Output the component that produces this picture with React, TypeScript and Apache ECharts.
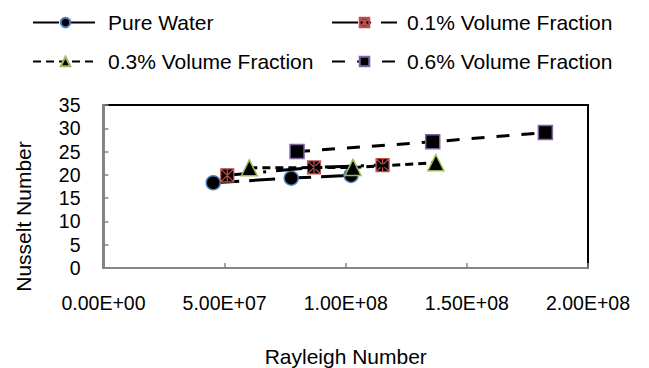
import React, { useEffect, useRef } from "react";
import * as echarts from "echarts";

const seriesNames = ["Pure Water", "0.1% Volume Fraction", "0.3% Volume Fraction", "0.6% Volume Fraction"];
const pureWaterRa = [4.53e7, 7.75e7, 1.022e8];
const pureWaterNu = [18.3, 19.3, 19.9];
const vf01Ra = [5.11e7, 8.69e7, 1.152e8];
const vf01Nu = [19.9, 21.6, 22.1];
const vf03Ra = [6.02e7, 1.03e8, 1.372e8];
const vf03Nu = [21.5, 21.6, 22.6];
const vf06Ra = [7.99e7, 1.359e8, 1.824e8];
const vf06Nu = [25.0, 27.1, 29.1];
const xTicks = [0, 5e7, 1e8, 1.5e8, 2e8];
const yTicks = [0, 5, 10, 15, 20, 25, 30, 35];

const FONT = "'Liberation Sans', Arial, sans-serif";
const STAR = "path://M0 0 L10 0 L10 10 L0 10 Z M0 0 L10 10 M10 0 L0 10 M5 0 L5 10";

function fmtSci(v: number): string {
  if (v === 0) return "0.00E+00";
  const e = Math.floor(Math.log10(Math.abs(v)) + 1e-9);
  const m = v / Math.pow(10, e);
  return m.toFixed(2) + "E+" + String(e).padStart(2, "0");
}

function pairs(xs: number[], ys: number[]) {
  return xs.map((x, i) => [x, ys[i]]);
}

export default function App() {
  const ref = useRef<HTMLDivElement>(null);
  useEffect(() => {
    if (!ref.current) return;
    const chart = echarts.init(ref.current, null, { renderer: "svg" });
    const legendCommon = {
      orient: "vertical" as const,
      top: 12,
      padding: 0,
      itemWidth: 65,
      itemHeight: 12,
      itemGap: 18,
      textStyle: { fontFamily: FONT, fontSize: 21, color: "#000", padding: [0, 0, 0, 5] },
    };
    chart.setOption({
      animation: false,
      backgroundColor: "#fff",
      textStyle: { fontFamily: FONT },
      legend: [
        { ...legendCommon, left: 32, data: [seriesNames[0], seriesNames[2]] },
        { ...legendCommon, left: 331, data: [seriesNames[1], seriesNames[3]] },
      ],
      grid: {
        left: 103.5,
        right: 61,
        top: 105,
        bottom: 98,
        show: true,
        borderColor: "#000",
        borderWidth: 2,
      },
      xAxis: {
        type: "value",
        min: xTicks[0],
        max: xTicks[xTicks.length - 1],
        interval: xTicks[1] - xTicks[0],
        name: "Rayleigh Number",
        nameLocation: "middle",
        nameGap: 78,
        nameTextStyle: { fontFamily: FONT, fontSize: 21, color: "#000" },
        axisLine: { show: true, lineStyle: { color: "#868686", width: 2 } },
        axisTick: { show: true, inside: true, length: 5, lineStyle: { color: "#868686", width: 1.5 } },
        axisLabel: { fontFamily: FONT, fontSize: 19.5, color: "#000", margin: 25, formatter: (v: number) => fmtSci(v) },
        splitLine: { show: false },
      },
      yAxis: {
        type: "value",
        min: yTicks[0],
        max: yTicks[yTicks.length - 1],
        interval: yTicks[1] - yTicks[0],
        name: "Nusselt Number",
        nameLocation: "middle",
        nameGap: 70,
        nameTextStyle: { fontFamily: FONT, fontSize: 21, color: "#000", padding: [0, 60, 0, 0] },
        axisLine: { show: true, lineStyle: { color: "#868686", width: 2 } },
        axisTick: { show: true, inside: true, length: 5, lineStyle: { color: "#868686", width: 1.5 } },
        axisLabel: { fontFamily: FONT, fontSize: 19.5, color: "#000", margin: 23 },
        splitLine: { show: false },
      },
      series: [
        {
          name: seriesNames[0],
          type: "line",
          data: pairs(pureWaterRa, pureWaterNu),
          symbol: "circle",
          symbolSize: 14,
          lineStyle: { color: "#000", width: 3, type: [26, 10] },
          itemStyle: { color: "#000", borderColor: "#4F81BD", borderWidth: 1.5 },
          z: 3,
        },
        {
          name: seriesNames[1],
          type: "line",
          data: pairs(vf01Ra, vf01Nu),
          symbol: STAR,
          symbolSize: 13,
          lineStyle: { color: "#000", width: 3, type: [26, 10, 3, 10] },
          itemStyle: { color: "#000", borderColor: "#C0504D", borderWidth: 1.2 },
          z: 4,
        },
        {
          name: seriesNames[2],
          type: "line",
          data: pairs(vf03Ra, vf03Nu),
          symbol: "triangle",
          symbolSize: 16,
          lineStyle: { color: "#000", width: 3, type: [8, 5] },
          itemStyle: { color: "#000", borderColor: "#9BBB59", borderWidth: 1.5 },
          z: 5,
        },
        {
          name: seriesNames[3],
          type: "line",
          data: pairs(vf06Ra, vf06Nu),
          symbol: "rect",
          symbolSize: 14,
          lineStyle: { color: "#000", width: 3, type: [13, 12] },
          itemStyle: { color: "#000", borderColor: "#8064A2", borderWidth: 1.5 },
          z: 6,
        },
      ],
    });
    return () => chart.dispose();
  }, []);
  return <div ref={ref} style={{ position: "fixed", left: 0, top: 0, width: 649, height: 368 }} />;
}
